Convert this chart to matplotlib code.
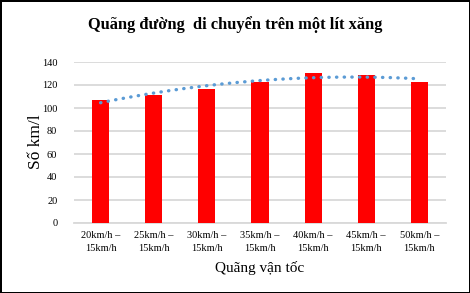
import numpy as np
import matplotlib.pyplot as plt

plt.rcParams['font.family'] = ['Liberation Serif', 'DejaVu Serif']

# Dữ liệu
categories = ['20km/h –\n15km/h', '25km/h –\n15km/h', '30km/h –\n15km/h',
              '35km/h –\n15km/h', '40km/h –\n15km/h', '45km/h –\n15km/h',
              '50km/h –\n15km/h']
km_per_l = [107, 111, 116.5, 123, 130.5, 128.5, 123]
y_ticks = [0, 20, 40, 60, 80, 100, 120, 140]

fig = plt.figure(figsize=(4.7, 2.93), dpi=100)
fig.patch.set_edgecolor('black')
fig.patch.set_linewidth(2)
ax = fig.add_axes([74 / 470, 1 - 223 / 293, 372 / 470, 161 / 293])

x = np.arange(len(categories))
ax.bar(x, km_per_l, width=0.32, color='#ff0000', zorder=3)

# Đường xu hướng bậc 2 (như Excel)
coef = np.polyfit(x, km_per_l, 2)
xs = np.linspace(x[0], x[-1], 300)
ax.plot(xs, np.polyval(coef, xs), color='#5b9bd5', linestyle=(0, (0.1, 2.2)),
        linewidth=2.4, dash_capstyle='round', zorder=4)

ax.set_xlim(-0.5, len(categories) - 0.5)
ax.set_ylim(0, 140)
ax.set_yticks(y_ticks)
ax.set_xticks(x)
ax.set_xticklabels(categories, fontsize=7.5, linespacing=1.5)
ax.tick_params(axis='y', labelsize=7.5, length=0, pad=12)
ax.tick_params(axis='x', length=0, pad=6)
ax.grid(axis='y', color='#d9d9d9', linewidth=1.3, zorder=0)
for s in ['top', 'right', 'left']:
    ax.spines[s].set_visible(False)
ax.spines['bottom'].set_color('#d9d9d9')
ax.spines['bottom'].set_linewidth(1.3)

ax.set_xlabel('Quãng vận tốc', fontsize=11, labelpad=6)
fig.text(36 / 470, 1 - 142 / 293, 'Số km/l', rotation=90,
         ha='center', va='center', fontsize=12.5)
fig.text(0.5, 1 - 25 / 293, 'Quãng đường  di chuyển trên một lít xăng',
         ha='center', va='center', fontsize=11.8, fontweight='bold')

fig.savefig('out.png', dpi=100)
